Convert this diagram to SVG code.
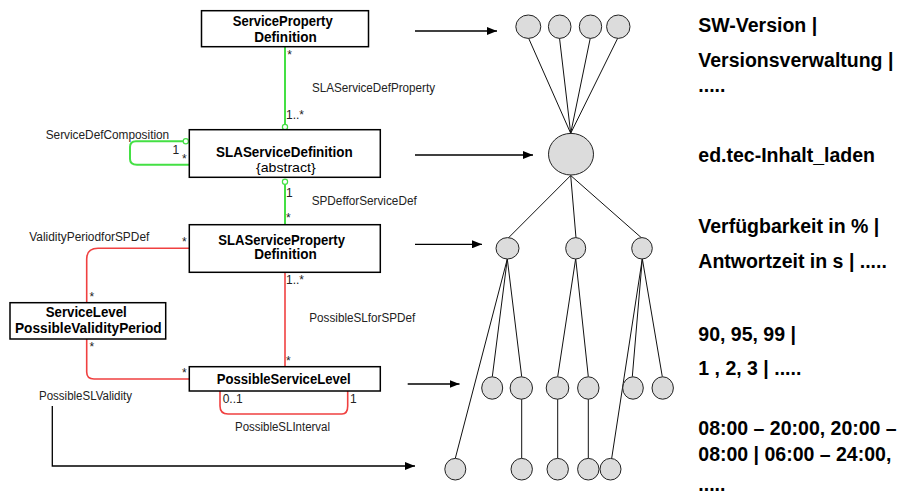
<svg xmlns="http://www.w3.org/2000/svg" width="902" height="494" viewBox="0 0 902 494">
<defs>
<style>
.box{fill:#fff;stroke:#000;stroke-width:1.5}
.bt{font-family:"Liberation Sans",Arial,sans-serif;font-weight:bold;font-size:14px;fill:#000}
.rt{font-family:"Liberation Sans",Arial,sans-serif;font-size:13px;fill:#000}
.lb{font-family:"Liberation Sans",Arial,sans-serif;font-size:12px;fill:#222}
.big{font-family:"Liberation Sans",Arial,sans-serif;font-weight:bold;font-size:19.5px;fill:#000}
.g{fill:none;stroke:#44e044;stroke-width:2}
.gd{fill:#fff;stroke:#44e044;stroke-width:1.2}
.r{fill:none;stroke:#f04040;stroke-width:1.6}
.ar{fill:none;stroke:#000;stroke-width:1.3;marker-end:url(#ah)}
.tl{stroke:#111;stroke-width:1;fill:none}
.c{fill:#dcdcdc;stroke:#222;stroke-width:1}
</style>
<marker id="ah" markerUnits="userSpaceOnUse" markerWidth="10" markerHeight="8" refX="10" refY="4" orient="auto">
<path d="M0,0 L10,4 L0,8 z" fill="#000"/>
</marker>
</defs>
<rect width="902" height="494" fill="#fff"/>

<g id="connectors">
<!-- UML green -->
<path class="g" d="M285,46.7 V124.3"/>
<circle class="gd" cx="285" cy="126.9" r="2.6"/>
<path class="g" d="M183.2,141.3 H136 Q130,141.3 130,147 V159 Q130,164.7 137,164.7 H189.3"/>
<circle class="gd" cx="185.8" cy="141.3" r="2.6"/>
<path class="g" d="M285,184.3 V224.7"/>
<circle class="gd" cx="285" cy="181.7" r="2.6"/>
<!-- UML red -->
<path class="r" d="M189.3,248.3 H98 Q86.7,248.3 86.7,259 V302.7"/>
<path class="r" d="M86.7,339 V372 Q86.7,379 94,379 H189.3"/>
<path class="r" d="M285,272.3 V366.7"/>
<path class="r" d="M220,391 V406 Q220,414 228,414 H342 Q347.7,414 347.7,406 V391"/>
<!-- arrows -->
<path class="ar" d="M415,31 H497"/>
<path class="ar" d="M415,155 H533"/>
<path class="ar" d="M415,244.3 H482"/>
<path class="ar" d="M407.7,384 H459.5"/>
<path class="ar" d="M52.3,406 V466 H415"/>
<!-- tree lines -->
<path class="tl" d="M528.3,37.5 L570.7,133.3 M559.5,38 L570.7,133.3 M590.3,38 L570.7,133.3 M618.3,37 L570.7,133.3"/>
<path class="tl" d="M570.7,175.5 L508.3,238 M570.7,175.5 L576,238 M570.7,175.5 L641.7,238"/>
<path class="tl" d="M507.3,259 L455.3,458.3 M507.3,259 L492.3,376.7 M507.3,259 L521.7,376.7"/>
<path class="tl" d="M575.7,258.5 L557.7,376.7 M575.7,258.5 L588.3,376.7"/>
<path class="tl" d="M642.3,258.7 L611.7,458.3 M642.3,258.7 L632.3,376.7 M642.3,258.7 L662.3,376.7"/>
<path class="tl" d="M521.7,399 V458.3 M557.7,399 V458.3 M588.3,399 V458.3"/>
</g>

<g id="labels">
<text class="lb" x="312" y="92" textLength="123" lengthAdjust="spacingAndGlyphs">SLAServiceDefProperty</text>
<text class="lb" x="45.7" y="139" textLength="123.5" lengthAdjust="spacingAndGlyphs">ServiceDefComposition</text>
<text class="lb" x="311.7" y="205" textLength="105" lengthAdjust="spacingAndGlyphs">SPDefforServiceDef</text>
<text class="lb" x="29.3" y="240.7" textLength="120" lengthAdjust="spacingAndGlyphs">ValidityPeriodforSPDef</text>
<text class="lb" x="309.3" y="321.7" textLength="106" lengthAdjust="spacingAndGlyphs">PossibleSLforSPDef</text>
<text class="lb" x="39" y="400" textLength="93" lengthAdjust="spacingAndGlyphs">PossibleSLValidity</text>
<text class="lb" x="235" y="430.7" textLength="95" lengthAdjust="spacingAndGlyphs">PossibleSLInterval</text>
<text class="lb" x="286" y="119">1..*</text>
<text class="lb" x="286" y="284">1..*</text>
<text class="lb" x="172.5" y="154">1</text>
<text class="lb" x="286" y="196.5">1</text>
<text class="lb" x="222.7" y="403.3">0..1</text>
<text class="lb" x="350" y="403.3">1</text>
<text class="lb" x="287.3" y="58.6">*</text>
<text class="lb" x="182" y="162.6">*</text>
<text class="lb" x="286" y="222">*</text>
<text class="lb" x="182" y="246">*</text>
<text class="lb" x="89.5" y="301">*</text>
<text class="lb" x="89.5" y="351">*</text>
<text class="lb" x="182" y="377">*</text>
<text class="lb" x="286" y="364.6">*</text>
</g>

<g id="ServicePropertyDefinition">
<rect class="box" x="201.5" y="10.7" width="167" height="36"/>
<text class="bt" x="232.7" y="26" textLength="100" lengthAdjust="spacingAndGlyphs">ServiceProperty</text>
<text class="bt" x="254.3" y="41.7" textLength="62.4" lengthAdjust="spacingAndGlyphs">Definition</text>
</g>
<g id="SLAServiceDefinition">
<rect class="box" x="189.3" y="129.7" width="191" height="47.6"/>
<text class="bt" x="216" y="157" textLength="136.7" lengthAdjust="spacingAndGlyphs">SLAServiceDefinition</text>
<text class="rt" x="256" y="172.4" textLength="59.7" lengthAdjust="spacingAndGlyphs">{abstract}</text>
</g>
<g id="SLAServicePropertyDefinition">
<rect class="box" x="189.3" y="224.7" width="191" height="47.6"/>
<text class="bt" x="218.3" y="245" textLength="126.7" lengthAdjust="spacingAndGlyphs">SLAServiceProperty</text>
<text class="bt" x="254.3" y="259.3" textLength="62.4" lengthAdjust="spacingAndGlyphs">Definition</text>
</g>
<g id="ServiceLevelPossibleValidityPeriod">
<rect class="box" x="10" y="302.7" width="155.7" height="36.3"/>
<text class="bt" x="45.7" y="316.7" textLength="81" lengthAdjust="spacingAndGlyphs">ServiceLevel</text>
<text class="bt" x="15" y="333.3" textLength="146.7" lengthAdjust="spacingAndGlyphs">PossibleValidityPeriod</text>
</g>
<g id="PossibleServiceLevel">
<rect class="box" x="189.3" y="366.7" width="191" height="24.3"/>
<text class="bt" x="216.7" y="384" textLength="134" lengthAdjust="spacingAndGlyphs">PossibleServiceLevel</text>
</g>

<g id="tree-top">
<ellipse class="c" cx="528.3" cy="26.7" rx="12.5" ry="11.7"/>
<ellipse class="c" cx="559.7" cy="26.7" rx="11.3" ry="11.7"/>
<ellipse class="c" cx="590.5" cy="26.7" rx="11.2" ry="11.7"/>
<ellipse class="c" cx="618.3" cy="26.7" rx="11.7" ry="11.7"/>
</g>
<g id="tree-root">
<ellipse class="c" cx="571" cy="154.2" rx="22.5" ry="20.8"/>
</g>
<g id="tree-properties">
<ellipse class="c" cx="507.5" cy="248.3" rx="11.5" ry="10.7"/>
<ellipse class="c" cx="575.7" cy="248.3" rx="10" ry="10.7"/>
<ellipse class="c" cx="642" cy="248.3" rx="10.3" ry="10.7"/>
</g>
<g id="tree-levels">
<ellipse class="c" cx="492.2" cy="388" rx="10.5" ry="11.2"/>
<ellipse class="c" cx="521.3" cy="388" rx="11.2" ry="11.2"/>
<ellipse class="c" cx="557.5" cy="388" rx="11.3" ry="11.2"/>
<ellipse class="c" cx="588.3" cy="388" rx="10.7" ry="11.2"/>
<ellipse class="c" cx="633" cy="388" rx="10.3" ry="11.2"/>
<ellipse class="c" cx="662.7" cy="388" rx="10.7" ry="11.2"/>
</g>
<g id="tree-validity">
<ellipse class="c" cx="455.3" cy="469.2" rx="10.5" ry="10.8"/>
<ellipse class="c" cx="521.7" cy="469.2" rx="10.7" ry="10.8"/>
<ellipse class="c" cx="557.7" cy="469.2" rx="10.7" ry="10.8"/>
<ellipse class="c" cx="588.3" cy="469.2" rx="10.7" ry="10.8"/>
<ellipse class="c" cx="610.5" cy="469.2" rx="10.5" ry="10.8"/>
</g>

<g id="examples">
<text class="big" x="698.3" y="32.3">SW-Version |</text>
<text class="big" x="698.3" y="66.7">Versionsverwaltung |</text>
<text class="big" x="698.3" y="91.5">.....</text>
<text class="big" x="698.3" y="161.7">ed.tec-Inhalt_laden</text>
<text class="big" x="698.3" y="233.3">Verfügbarkeit in % |</text>
<text class="big" x="698.3" y="268.3">Antwortzeit in s | .....</text>
<text class="big" x="698.3" y="340.7">90, 95, 99 |</text>
<text class="big" x="698.3" y="375">1 , 2, 3 | .....</text>
<text class="big" x="698.3" y="435">08:00 – 20:00, 20:00 –</text>
<text class="big" x="698.3" y="460.7">08:00 | 06:00 – 24:00,</text>
<text class="big" x="698.3" y="491">.....</text>
</g>
</svg>
